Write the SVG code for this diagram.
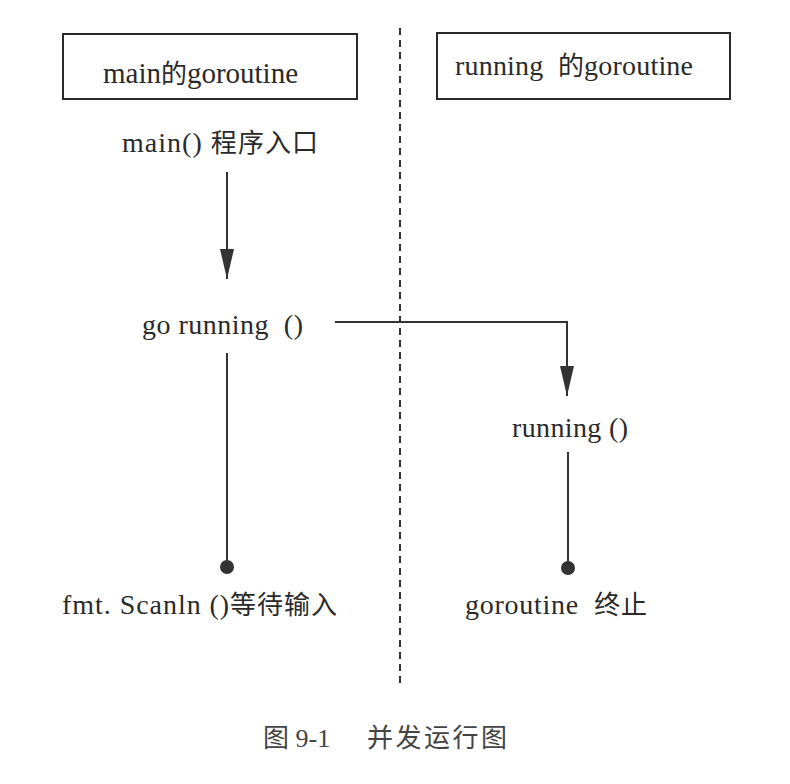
<svg xmlns="http://www.w3.org/2000/svg" width="790" height="784" viewBox="0 0 790 784">
<style>
text{font-family:"Liberation Serif","Noto Sans CJK SC",serif;font-size:28px;fill:#2a2a2a;white-space:pre}
.cjk{font-size:26px}
.big{font-size:29px}
.box{fill:none;stroke:#2a2a2a;stroke-width:2}
.ln{fill:none;stroke:#333;stroke-width:2}
.dash{fill:none;stroke:#333;stroke-width:2;stroke-dasharray:7 5}
.dot{fill:#333}
</style>
<defs>
<marker id="arr" viewBox="0 0 30 14" refX="30" refY="7" markerWidth="30" markerHeight="14" markerUnits="userSpaceOnUse" orient="auto">
<path d="M0,0 L30,7 L0,14 Z" fill="#333"/>
</marker>
</defs>
<rect width="790" height="784" fill="#fff"/>
<g id="divider"><line class="dash" x1="400" y1="28" x2="400" y2="686"/></g>
<g id="main-header"><rect class="box" x="63" y="34" width="294" height="65"/><text class="big" x="103" y="83" textLength="195" lengthAdjust="spacing">main<tspan class="cjk">的</tspan>goroutine</text></g>
<g id="running-header"><rect class="box" x="437" y="33" width="293" height="66"/><text x="455" y="75" textLength="238" lengthAdjust="spacing">running  <tspan class="cjk">的</tspan>goroutine</text></g>
<g id="main-entry"><text x="122" y="152" textLength="196" lengthAdjust="spacing">main() <tspan class="cjk">程序入口</tspan></text></g>
<g id="go-running"><text x="142" y="334" textLength="161" lengthAdjust="spacing">go running  ()</text></g>
<g id="running-call"><text x="512" y="437" textLength="116" lengthAdjust="spacing">running ()</text></g>
<g id="scanln"><circle class="dot" cx="227" cy="567" r="7"/><text x="62" y="614" textLength="275" lengthAdjust="spacing">fmt. Scanln ()<tspan class="cjk">等待输入</tspan></text></g>
<g id="goroutine-end"><circle class="dot" cx="568" cy="568" r="7"/><text x="465" y="614" textLength="182" lengthAdjust="spacing">goroutine  <tspan class="cjk">终止</tspan></text></g>
<g id="connectors">
<path class="ln" d="M227,172 V279" marker-end="url(#arr)"/>
<path class="ln" d="M335,322 H567 V396" marker-end="url(#arr)"/>
<path class="ln" d="M227,353 V567"/>
<path class="ln" d="M568,452 V568"/>
</g>
<g id="caption"><text x="263" y="747" style="fill:#444;font-size:26px"><tspan class="cjk">图</tspan> 9-1</text><text x="367" y="747" style="fill:#444" class="cjk" textLength="140" lengthAdjust="spacing">并发运行图</text></g>
</svg>
